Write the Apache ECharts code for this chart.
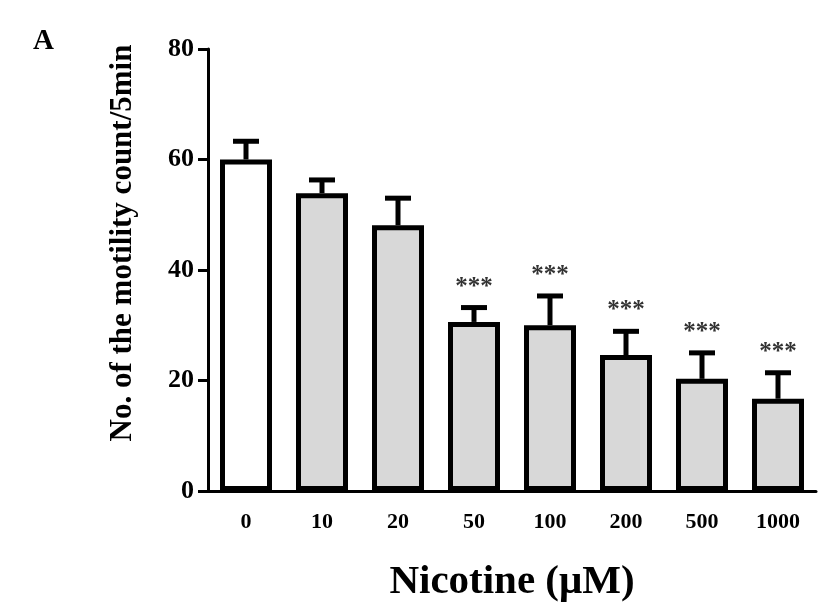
<!DOCTYPE html>
<html><head><meta charset="utf-8">
<script src="https://cdn.jsdelivr.net/npm/echarts@6/dist/echarts.min.js"></script>
<style>html,body{margin:0;padding:0;background:#fff}#c{width:827px;height:607px}</style>
</head><body><div id="c"></div>
<script>
const categories = ['0','10','20','50','100','200','500','1000'];
const means = [60.0, 53.9, 48.1, 30.6, 30.0, 24.6, 20.3, 16.7];
const errors = [3.3, 2.4, 4.9, 2.6, 5.3, 4.3, 4.7, 4.7];
const stars = ['', '', '', '***', '***', '***', '***', '***'];
const yTicks = [0, 20, 40, 60, 80];

const font = '"Liberation Serif", "Times New Roman", serif';
const chart = echarts.init(document.getElementById('c'), null, {renderer: 'canvas'});
const errData = categories.map((c, i) => [i, means[i], means[i] + errors[i], stars[i]]);

chart.setOption({
  animation: false,
  backgroundColor: '#fff',
  title: {text: 'A', left: 28, top: 22, textStyle: {fontFamily: font, fontWeight: 'bold', fontSize: 29, color: '#000'}},
  grid: {left: 208, right: 11, top: 49, bottom: 116, containLabel: false, outerBoundsMode: 'none'},
  xAxis: {
    type: 'category', data: categories,
    name: 'Nicotine (μM)', nameLocation: 'middle', nameGap: 71,
    nameTextStyle: {fontFamily: font, fontWeight: 'bold', fontSize: 41, color: '#000'},
    axisLine: {lineStyle: {color: '#000', width: 3}},
    axisTick: {alignWithLabel: true, length: 12, lineStyle: {color: '#000', width: 3}},
    axisLabel: {fontFamily: font, fontWeight: 'bold', fontSize: 22, color: '#000', margin: 20}
  },
  yAxis: {
    type: 'value', min: yTicks[0], max: yTicks[yTicks.length - 1], interval: 20,
    name: 'No. of the motility count/5min', nameLocation: 'middle', nameGap: 70, nameRotate: 90,
    nameTextStyle: {fontFamily: font, fontWeight: 'bold', fontSize: 31, color: '#000', padding: [0, 0, 0, 54]},
    axisLine: {show: true, lineStyle: {color: '#000', width: 3}},
    axisTick: {show: true, length: 10, lineStyle: {color: '#000', width: 3}},
    splitLine: {show: false},
    axisLabel: {fontFamily: font, fontWeight: 'bold', fontSize: 26, color: '#000', margin: 14}
  },
  series: [
    {
      type: 'bar', barWidth: 52,
      data: means.map((v, i) => ({value: v, itemStyle: {color: i === 0 ? '#ffffff' : '#d8d8d8'}})),
      itemStyle: {borderColor: '#000', borderWidth: 5},
      z: 2
    },
    {
      type: 'custom', z: 3,
      data: errData,
      renderItem: function (params, api) {
        const x = api.coord([api.value(0), 0])[0];
        const yTop = api.coord([0, api.value(1)])[1];
        const yErr = api.coord([0, api.value(2)])[1];
        const hw = 13;
        const children = [
          {type: 'line', shape: {x1: x, y1: yTop, x2: x, y2: yErr}, style: {stroke: '#000', lineWidth: 5}},
          {type: 'line', shape: {x1: x - hw, y1: yErr, x2: x + hw, y2: yErr}, style: {stroke: '#000', lineWidth: 5}}
        ];
        const s = errData[params.dataIndex][3];
        if (s) {
          children.push({type: 'text', x: x, y: yErr - 8, style: {text: s, fill: '#333', font: 'bold 25px ' + font, textAlign: 'center', textVerticalAlign: 'bottom'}});
        }
        return {type: 'group', children: children};
      }
    }
  ]
});
</script></body></html>
